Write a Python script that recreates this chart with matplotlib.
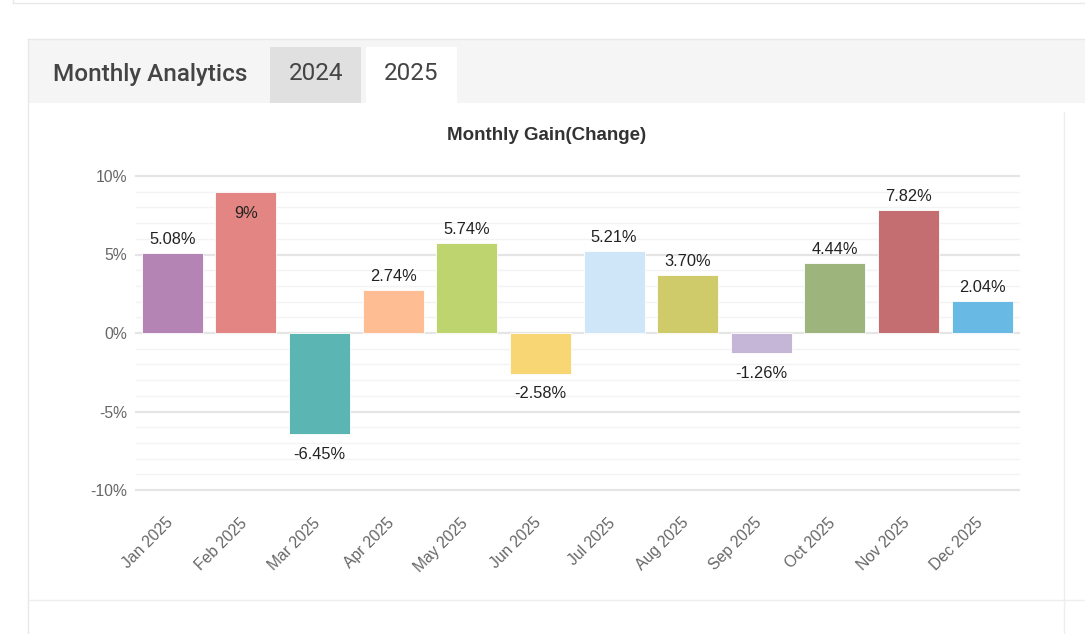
import numpy as np
import matplotlib
matplotlib.use("Agg")
import matplotlib.pyplot as plt
from matplotlib.patches import Rectangle
from matplotlib.lines import Line2D
from matplotlib.transforms import ScaledTranslation

months = ["Jan 2025", "Feb 2025", "Mar 2025", "Apr 2025", "May 2025", "Jun 2025",
          "Jul 2025", "Aug 2025", "Sep 2025", "Oct 2025", "Nov 2025", "Dec 2025"]
gains = [5.08, 9.0, -6.45, 2.74, 5.74, -2.58, 5.21, 3.70, -1.26, 4.44, 7.82, 2.04]
labels = ["5.08%", "9%", "-6.45%", "2.74%", "5.74%", "-2.58%",
          "5.21%", "3.70%", "-1.26%", "4.44%", "7.82%", "2.04%"]
colors = ["#b384b4", "#e38582", "#5bb5b3", "#ffbd94", "#bed56f", "#f8d674",
          "#cfe6f8", "#d0cb6a", "#c5b6d8", "#9db57d", "#c56e72", "#68bae5"]
yticks = [-10, -5, 0, 5, 10]
tab_years = ["2024", "2025"]

W, H = 1085, 634
fig = plt.figure(figsize=(W / 100, H / 100), dpi=100)
fig.patch.set_facecolor("white")

def box(x, y, w, h, fc, ec="none", lw=0):
    # pixel coords, y from top
    fig.add_artist(Rectangle((x / W, 1 - (y + h) / H), w / W, h / H,
                             transform=fig.transFigure, facecolor=fc,
                             edgecolor=ec, linewidth=lw, zorder=0))

def hline(y, x0, x1, c="#e8e8e8"):
    fig.add_artist(Line2D([x0 / W, x1 / W], [1 - y / H, 1 - y / H],
                          transform=fig.transFigure, color=c, lw=1, zorder=1))

def vline(x, y0, y1, c="#e8e8e8"):
    fig.add_artist(Line2D([x / W, x / W], [1 - y0 / H, 1 - y1 / H],
                          transform=fig.transFigure, color=c, lw=1, zorder=1))

# page frame
hline(3, 13, W)
vline(13, 0, 3)
box(28, 39, W - 28, 64, "#f5f5f5")
hline(39, 28, W)
vline(28, 39, H)
hline(600, 28, W, "#eeeeee")
vline(1064, 112, H, "#eeeeee")

# tabs
box(270, 47, 91, 56, "#e0e0e0")
box(366, 47, 91, 56, "white")
fig.text(53 / W, 1 - 74 / H, "Monthly Analytics", fontsize=17.5, family="Roboto",
         color="#444444", weight="medium", va="center", ha="left")
fig.text(316 / W, 1 - 74 / H, tab_years[0], fontsize=17.5, family="Roboto",
         color="#444444", va="center", ha="center")
fig.text(411 / W, 1 - 74 / H, tab_years[1], fontsize=17.5, family="Roboto",
         color="#444444", va="center", ha="center")

fig.text(547 / W, 1 - 136 / H, "Monthly Gain(Change)", fontsize=13.5,
         family="Liberation Sans", weight="bold", color="#333333",
         va="center", ha="center")

ax = fig.add_axes([135.5 / W, 1 - 490 / H, 883.5 / W, 314 / H])
x = np.arange(len(months))
ax.bar(x, gains, width=0.83, color=colors, edgecolor="white", linewidth=0.6, zorder=3)
ax.set_xlim(-0.5, len(months) - 0.5)
ax.set_ylim(-10, 10)

for v in range(-10, 11):
    major = v % 5 == 0
    ax.axhline(v, color="#e5e5e5" if major else "#f3f3f3",
               lw=1.6 if major else 1.0, zorder=1, clip_on=False)

for i, (v, t) in enumerate(zip(gains, labels)):
    if v >= 8.5:
        ax.text(i, v - 1.4, t, ha="center", va="center", fontsize=11.8,
                family="Liberation Sans", color="#222222", zorder=4)
    elif v >= 0:
        ax.text(i, v + 0.85, t, ha="center", va="center", fontsize=11.8,
                family="Liberation Sans", color="#222222", zorder=4)
    else:
        ax.text(i, v - 1.3, t, ha="center", va="center", fontsize=11.8,
                family="Liberation Sans", color="#222222", zorder=4)

for s in ax.spines.values():
    s.set_visible(False)
ax.set_yticks(yticks)
ax.set_yticklabels([f"{v}%" for v in yticks], family="Liberation Sans",
                   fontsize=11.3, color="#666666")
ax.set_xticks(x)
ax.set_xticklabels(months, rotation=45, ha="right", rotation_mode="anchor",
                   family="Liberation Sans", fontsize=11.3, color="#666666")
ax.tick_params(axis="both", length=0)
ax.tick_params(axis="y", pad=6)
ax.tick_params(axis="x", pad=16)
shift = ScaledTranslation(-7 / 100, -3 / 100, fig.dpi_scale_trans)
for lbl in ax.get_xticklabels():
    lbl.set_transform(lbl.get_transform() + shift)

fig.savefig("out.png", dpi=100, facecolor="white")
